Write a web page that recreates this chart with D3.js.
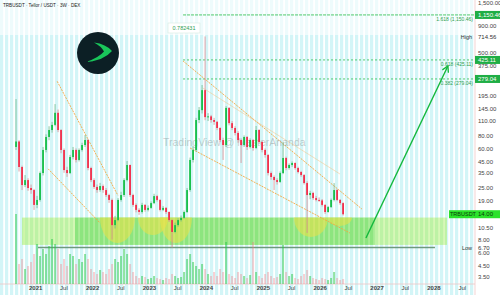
<!DOCTYPE html>
<html><head><meta charset="utf-8">
<script src="https://cdn.jsdelivr.net/npm/d3@7"></script>
<style>html,body{margin:0;padding:0;background:#fff;overflow:hidden}svg{display:block;font-family:"Liberation Sans",Arial,sans-serif}</style>
</head><body><svg id="c" width="500" height="295"></svg>
<script>
// ---------- DATA ----------
const title = "TRBUSDT · Tellor / USDT · 3W · DEX";
const firstCandle = "2020-08-31";
const candleStepDays = 19.26;
const firstOpen = 62;
const closes = [70,39.8,26.7,29.8,25.0,23.9,17.2,19.2,34.8,58.0,77.3,90.2,101,132,90.2,58.0,37.2,34.8,49.6,58.0,46.5,58.0,64.7,72.3,38.9,29.8,25.6,23.9,26.1,23.9,21.4,19.2,11.0,12.3,19.2,21.4,29.8,41.6,21.4,17.2,15.4,14.7,17.2,15.4,16.1,17.9,20.9,19.2,15.4,16.1,14.7,12.3,9.45,11.0,12.3,12.9,14.7,23.9,46.5,58.0,112.5,140,218,120,122,112.5,108,94.3,72.3,64.7,147,105,94.3,84.5,72.3,64.7,77.3,61.9,72.3,60.6,90.2,69.2,58.0,51.9,34.8,31.9,29.8,28.6,34.8,48.6,38.9,41.6,43.5,38.9,35.6,33.3,27.9,21.4,22.4,20.0,19.2,19.0,17.2,14.7,16.4,19.2,23.9,19.2,17.9,14.0];
const highs = [179,72,41,33.3,31,27,24.5,21,36,62,82,98,108,160,142,92,60,40,52,62,60,60,68,80.8,74,40,31,27,28,27,25,22,19.8,13.5,20,23,31,45.4,42,22,17.8,16,18,17.5,17,18.6,22,21.5,19.5,16.8,16.4,14.9,12.5,11.6,12.8,13.6,15.2,25,49,63,118,150,244,714.56,131,126,118,110,96,76,153,150,110,98,88,75,80,79,75,74,98.6,92,71,60,53,36,33,31,36,69.2,50,43,45,44,40,36.5,34,29,23.5,23,21,20.3,19.6,17.5,16.8,19.8,27.9,24.5,19.6,18.2];
const lows = [58,36,23.9,25.5,23.5,22,15.4,16,18.5,33,55,72,85,98,86,54,35,32,34,47,44,45,56,62,37,28.5,24.5,22.5,23,22.5,20.5,18,8.0,10.2,12,18.5,20.5,29,20.5,16.5,14.6,13.8,14.2,14.8,14.9,15.8,17.5,18.5,14.9,15,14.1,11.8,6.70,9.2,10.6,11.9,12.6,14.4,23,44,56,105,130,112,110,106,101,90,69,46.5,62,100,90,80,68,43.5,62,58,60,57,59,66,55,49,33,30,23.9,27,28,34,37,37.5,40,37.5,34.5,32,27,9.24,19.5,19.2,18.6,18.4,16.6,14.1,14.5,16.1,18.6,18.7,17.2,13.6];
const volumes = [70,20,25,15,18,22,30,40,28,35,30,38,45,40,35,20,25,18,30,28,20,25,22,30,25,15,12,10,14,12,10,15,20,25,22,28,35,30,20,12,8,6,8,7,5,6,8,6,5,4,6,5,10,8,6,7,12,25,30,22,18,15,20,15,10,8,12,8,15,12,42,10,8,6,12,10,8,6,9,42,12,8,6,10,12,8,6,7,10,39,12,8,10,6,5,8,10,14,8,6,5,4,6,5,4,6,12,6,4,5];

const priceTicks = [1500,900,500,375,195,145,110,80,60,45,35,25,19,10.5,8,6,4.5,3.5];
const fibRatios = ["1.618","0.618","0.382"];
const fibValues = [1150.46,425.11,279.04];
const fibStart = "2023-08-08";
const allTimeHigh = 714.56, allTimeLow = 6.70;
const lastPrice = 14.00;

const zoneTop = 13.0, zoneBottom = 7.1;
const zoneOuter = ["2020-10-08","2028-03-28"];
const zoneInner = ["2021-09-13","2026-12-22"];
const lowLine = ["2021-01-19","2028-01-11"];
const cupStarts = ["2022-02-21","2022-10-23","2023-03-13","2025-07-20","2026-02-23"];
const cupEnds   = ["2022-10-03","2023-05-03","2023-10-04","2026-02-23","2026-07-27"];
const cupBottoms = [7.40,8.84,7.40,8.46,10.8];

// trend lines: [date1, price1, date2, price2]
const trendMain = [
  ["2021-05-22",265,"2022-06-16",21.2],
  ["2021-03-25",38.2,"2022-02-22",11.5],
  ["2023-08-08",415,"2026-09-29",15.7],
  ["2023-09-22",60.6,"2026-07-14",9.24]
];
const trendFaint = [
  ["2023-12-14",228,"2026-05-11",34.1]
];
const arrowPts = [["2026-10-25",8.27],["2028-04-03",372]];

// ---------- CHART ----------
const svg = d3.select("#c");
const W = 500, H = 295, plotR = 475, volBase = 284;
const parse = d3.timeParse("%Y-%m-%d");
const x = d3.scaleTime().domain([new Date(2020,4,20), new Date(2028,8,24)]).range([0, plotR]);
const y = d3.scaleLog().domain([3.125, 1601]).range([282, 0]);
const yVol = d3.scaleLinear().domain([0,70]).range([volBase, volBase-70]);

const t0 = parse(firstCandle).getTime();
const candles = closes.map((c,i)=>({
  date: new Date(t0 + i*candleStepDays*864e5),
  open: i===0 ? firstOpen : closes[i-1], close:c, high:highs[i], low:lows[i], vol:volumes[i]
}));

// background stripes
const bg = svg.append("g");
bg.append("rect").attr("width",W).attr("height",H).attr("fill","#fff");
d3.range(0, plotR, 5).forEach(sx=>{
  bg.append("rect").attr("x",sx).attr("y",0).attr("width",3.2).attr("height",35).attr("fill","#eefbfc");
  bg.append("rect").attr("x",sx).attr("y",35).attr("width",3.2).attr("height",H-35).attr("fill","#d3f5f7");
});

// zone
const zone = svg.append("g");
zone.append("rect").attr("x",x(parse(zoneOuter[0]))).attr("width",x(parse(zoneOuter[1]))-x(parse(zoneOuter[0])))
  .attr("y",y(zoneTop)).attr("height",y(zoneBottom)-y(zoneTop)).attr("fill","rgba(175,240,110,0.6)");
zone.append("rect").attr("x",x(parse(zoneInner[0]))).attr("width",x(parse(zoneInner[1]))-x(parse(zoneInner[0])))
  .attr("y",y(zoneTop)).attr("height",y(zoneBottom)-y(zoneTop)).attr("fill","rgba(70,210,70,0.4)");
// light stripe texture over zone
d3.range(Math.ceil(x(parse(zoneOuter[0]))/5)*5, x(parse(zoneOuter[1])), 5).forEach(sx=>{
  zone.append("rect").attr("x",sx+3.2).attr("y",y(zoneTop)).attr("width",1.8).attr("height",y(zoneBottom)-y(zoneTop))
    .attr("fill","rgba(255,255,255,0.18)");
});
cupStarts.forEach((s,i)=>{
  const x0=x(parse(s)), x1=x(parse(cupEnds[i])), yt=y(zoneTop), yb=y(cupBottoms[i]);
  const rx=(x1-x0)/2, ry=yb-yt;
  zone.append("path").attr("d",`M${x0},${yt} A${rx},${ry} 0 0 0 ${x1},${yt} Z`)
    .attr("fill","rgba(238,226,70,0.55)");
});
zone.append("line").attr("x1",x(parse(lowLine[0]))).attr("x2",x(parse(lowLine[1])))
  .attr("y1",y(allTimeLow)).attr("y2",y(allTimeLow)).attr("stroke","#6f9a7c").attr("stroke-width",1.6);

// volume baseline
svg.append("line").attr("x1",0).attr("x2",plotR).attr("y1",volBase).attr("y2",volBase).attr("stroke","#f0c4c4").attr("stroke-width",0.8);

// volume
svg.append("g").selectAll("rect").data(candles).join("rect")
  .attr("x",d=>x(d.date)-1).attr("width",2)
  .attr("y",d=>yVol(d.vol)).attr("height",d=>volBase-yVol(d.vol))
  .attr("fill",d=>d.close>=d.open?"rgba(40,200,70,0.5)":"rgba(240,120,130,0.35)");

// fib lines
const fib = svg.append("g");
fibValues.forEach((v,i)=>{
  fib.append("line").attr("x1",x(parse(fibStart))).attr("x2",plotR).attr("y1",y(v)).attr("y2",y(v))
    .attr("stroke","#3cc35c").attr("stroke-width",0.9).attr("stroke-dasharray",i===0?"3,1":"2,2");
  fib.append("text").attr("x",473).attr("y",y(v)+6).attr("text-anchor","end")
    .attr("font-size",5).attr("fill","#2f9e4f").text(`${fibRatios[i]} (${d3.format(",.2f")(v)})`);
});

// trend lines
const tl = svg.append("g");
trendMain.forEach(t=>{
  tl.append("line").attr("x1",x(parse(t[0]))).attr("y1",y(t[1])).attr("x2",x(parse(t[2]))).attr("y2",y(t[3]))
    .attr("stroke","#f4a640").attr("stroke-width",0.9).attr("stroke-dasharray","2,1");
});
trendFaint.forEach(t=>{
  tl.append("line").attr("x1",x(parse(t[0]))).attr("y1",y(t[1])).attr("x2",x(parse(t[2]))).attr("y2",y(t[3]))
    .attr("stroke","#f6c27e").attr("stroke-width",0.7).attr("opacity",0.7);
});

// watermark
svg.append("text").attr("x",163).attr("y",146).attr("font-size",10.5).attr("fill","rgba(110,110,110,0.35)")
  .text("TradingView @ MasterAnanda");

// candles
const cg = svg.append("g");
cg.selectAll("line").data(candles).join("line")
  .attr("x1",d=>x(d.date)).attr("x2",d=>x(d.date)).attr("y1",d=>y(d.high)).attr("y2",d=>y(d.low))
  .attr("stroke",d=>d.close>=d.open?"#6fb98a":"#d88a92").attr("stroke-width",0.8);
cg.selectAll("rect").data(candles).join("rect")
  .attr("x",d=>x(d.date)-0.9).attr("width",1.8)
  .attr("y",d=>y(Math.max(d.open,d.close)))
  .attr("height",d=>Math.max(1,Math.abs(y(d.open)-y(d.close))))
  .attr("fill",d=>d.close>=d.open?"#18c04a":"#f2304c");

// arrow
const defs = svg.append("defs");
defs.append("marker").attr("id","ah").attr("viewBox","0 0 10 10").attr("refX",8).attr("refY",5)
  .attr("markerWidth",6).attr("markerHeight",6).attr("orient","auto")
  .append("path").attr("d","M1,1 L8,5 L1,9").attr("fill","none").attr("stroke","#13b83c").attr("stroke-width",1.6);
svg.append("line").attr("x1",x(parse(arrowPts[0][0]))).attr("y1",y(arrowPts[0][1]))
  .attr("x2",x(parse(arrowPts[1][0]))).attr("y2",y(arrowPts[1][1]))
  .attr("stroke","#13b83c").attr("stroke-width",1.4).attr("marker-end","url(#ah)");

// callout near peak
svg.append("rect").attr("x",168).attr("y",23).attr("width",32).attr("height",10).attr("fill","#fff").attr("stroke","#d5ece0").attr("stroke-width",0.6);
svg.append("text").attr("x",184).attr("y",30).attr("text-anchor","middle").attr("font-size",5.5).attr("fill","#2f9e4f").text("0.782431");

// logo
const logo = svg.append("g");
logo.append("circle").attr("cx",98).attr("cy",53).attr("r",21).attr("fill","#0c1f25");
logo.append("path").attr("d","M94,42.5 Q106,44 112,51 Q104,60.5 86,62 Q99,57.5 104,51.5 Q101,46 94,42.5 Z").attr("fill","#19c65a");

// title
svg.append("text").attr("x",3).attr("y",7).attr("font-size",4.6).attr("fill","#222").text(title);

// axis area
svg.append("rect").attr("x",plotR).attr("y",0).attr("width",W-plotR).attr("height",H).attr("fill","#fff");
svg.append("line").attr("x1",plotR).attr("x2",plotR).attr("y1",0).attr("y2",H).attr("stroke","#f0c8c8").attr("stroke-width",0.8);

const yAxis = d3.axisRight(y).tickValues(priceTicks).tickFormat(d3.format(",.2f")).tickSize(0).tickPadding(3);
const ya = svg.append("g").attr("transform",`translate(${plotR},0)`).call(yAxis);
ya.select(".domain").remove();
ya.selectAll("text").attr("font-size",6).attr("fill","#444");

// time axis
const tvals = [];
for (let yr=2021; yr<=2028; yr++){ tvals.push(new Date(yr,0,1)); tvals.push(new Date(yr,6,1)); }
const xAxis = d3.axisBottom(x).tickValues(tvals).tickFormat(d=>d.getMonth()===0?d3.timeFormat("%Y")(d):"Jul").tickSize(0).tickPadding(2);
const xa = svg.append("g").attr("transform",`translate(0,${volBase})`).call(xAxis);
xa.select(".domain").remove();
xa.selectAll("text").attr("font-size",6).attr("fill","#444").attr("font-weight",d=>d.getMonth()===0?"bold":"normal");

// axis labels boxes
function box(v, txt, bgc, fg){
  svg.append("rect").attr("x",plotR).attr("y",y(v)-4).attr("width",25).attr("height",8).attr("fill",bgc);
  svg.append("text").attr("x",plotR+3).attr("y",y(v)+2.2).attr("font-size",6).attr("fill",fg).text(txt);
}
fibValues.forEach(v=>box(v, d3.format(",.2f")(v), "#1fae45", "#fff"));
box(lastPrice, d3.format(",.2f")(lastPrice), "#2be22b", "#0a3a0a");
svg.append("rect").attr("x",449).attr("y",y(lastPrice)-4).attr("width",26).attr("height",8).attr("fill","#2be22b");
svg.append("text").attr("x",450).attr("y",y(lastPrice)+2.2).attr("font-size",5.5).attr("fill","#0a3a0a").text("TRBUSDT");

// high / low
[[allTimeHigh,"High"],[allTimeLow,"Low"]].forEach(([v,l])=>{
  svg.append("rect").attr("x",plotR+1).attr("y",y(v)-3.5).attr("width",23).attr("height",7).attr("fill","#fff");
  svg.append("text").attr("x",plotR+3).attr("y",y(v)+2.2).attr("font-size",6).attr("fill","#333").text(d3.format(",.2f")(v));
  svg.append("text").attr("x",472).attr("y",y(v)+2.2).attr("text-anchor","end").attr("font-size",5.5).attr("fill","#333").text(l);
});
</script></body></html>
